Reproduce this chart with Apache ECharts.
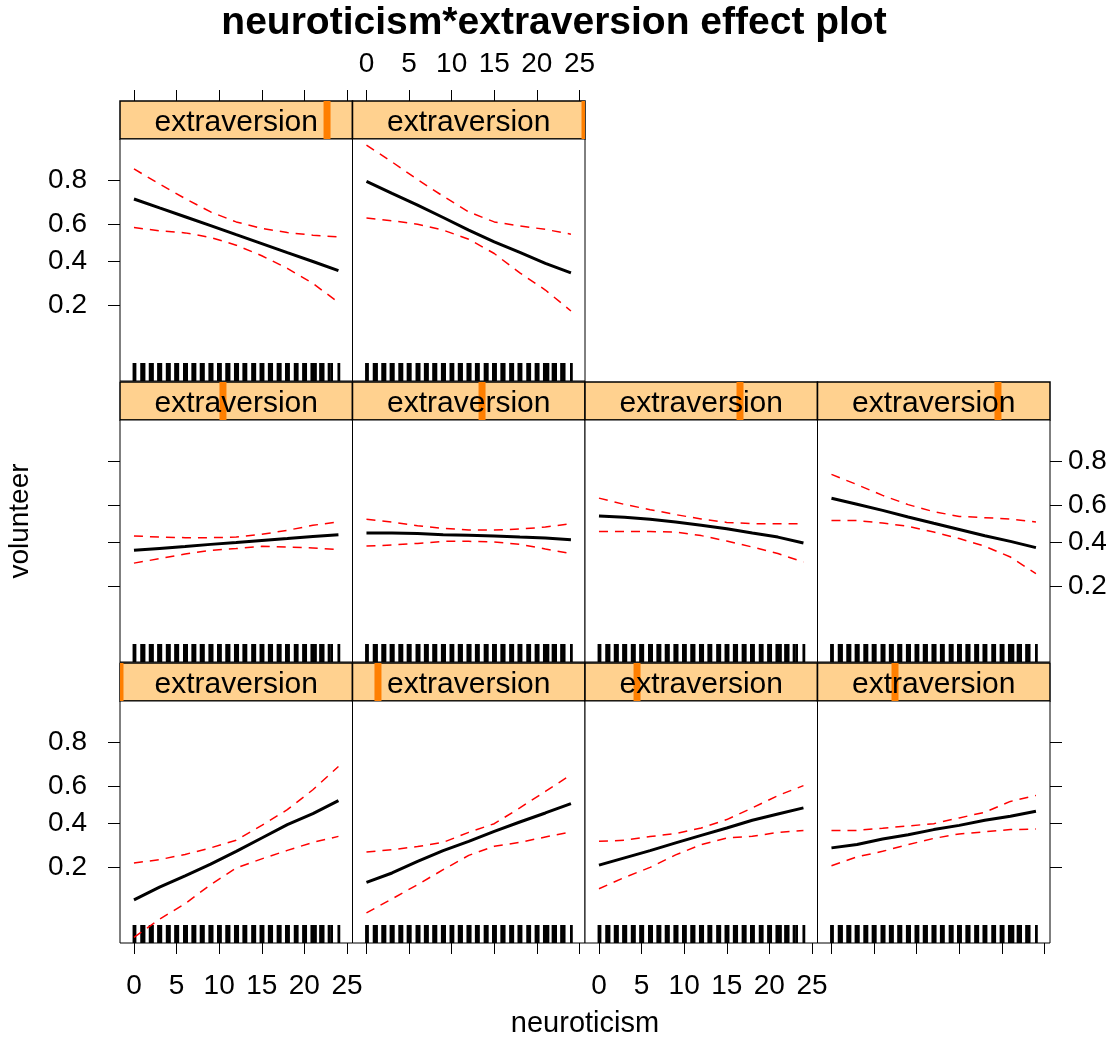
<!DOCTYPE html>
<html>
<head>
    <title>neuroticism*extraversion effect plot</title>
    <script src="https://cdn.jsdelivr.net/npm/echarts@6/dist/echarts.min.js"></script>
    <style>
        body { margin: 0; background: #fff; }
        #chart { width: 1119px; height: 1040px; }
    </style>
</head>
<body>
    <div id="chart"></div>

    <script>
    // neuroticism values where the effect was evaluated
    const neuro = [0, 3, 6, 9, 12, 15, 18, 21, 24];
    // conditioning levels of extraversion (panel order: bottom-left first)
    const extraLevels = [2, 4.3, 6.7, 9, 11.3, 13.7, 16, 18.3, 20.7, 23];

    // fitted probability of volunteering, one row per panel
    const fitVals = [
        [0.108, 0.138, 0.171, 0.211, 0.262, 0.323, 0.391, 0.450, 0.522],
        [0.151, 0.180, 0.221, 0.265, 0.307, 0.356, 0.405, 0.454, 0.506],
        [0.207, 0.235, 0.265, 0.300, 0.336, 0.373, 0.414, 0.448, 0.482],
        [0.277, 0.292, 0.318, 0.339, 0.365, 0.387, 0.414, 0.436, 0.463],
        [0.356, 0.366, 0.376, 0.387, 0.397, 0.408, 0.418, 0.429, 0.439],
        [0.448, 0.448, 0.445, 0.439, 0.436, 0.432, 0.426, 0.421, 0.412],
        [0.542, 0.535, 0.524, 0.509, 0.491, 0.472, 0.448, 0.426, 0.394],
        [0.637, 0.606, 0.573, 0.537, 0.502, 0.468, 0.433, 0.403, 0.370],
        [0.725, 0.684, 0.640, 0.593, 0.544, 0.495, 0.445, 0.397, 0.350],
        [0.796, 0.749, 0.697, 0.636, 0.569, 0.504, 0.446, 0.387, 0.338]
    ];
    const lowerVals = [
        [0.050, 0.073, 0.100, 0.145, 0.197, 0.231, 0.266, 0.302, 0.331],
        [0.083, 0.110, 0.145, 0.191, 0.245, 0.284, 0.302, 0.328, 0.353],
        [0.134, 0.166, 0.199, 0.247, 0.292, 0.323, 0.331, 0.351, 0.361],
        [0.205, 0.239, 0.262, 0.292, 0.321, 0.343, 0.354, 0.365, 0.368],
        [0.294, 0.315, 0.338, 0.356, 0.365, 0.377, 0.373, 0.368, 0.361],
        [0.378, 0.384, 0.392, 0.403, 0.403, 0.400, 0.387, 0.363, 0.340],
        [0.456, 0.456, 0.456, 0.454, 0.434, 0.405, 0.373, 0.340, 0.299],
        [0.517, 0.517, 0.503, 0.485, 0.454, 0.418, 0.377, 0.323, 0.248],
        [0.583, 0.565, 0.554, 0.529, 0.486, 0.428, 0.361, 0.288, 0.210],
        [0.634, 0.619, 0.601, 0.569, 0.519, 0.440, 0.338, 0.259, 0.180]
    ];
    const upperVals = [
        [0.215, 0.228, 0.249, 0.277, 0.312, 0.387, 0.472, 0.582, 0.700],
        [0.259, 0.269, 0.283, 0.302, 0.351, 0.396, 0.482, 0.573, 0.660],
        [0.307, 0.312, 0.330, 0.345, 0.373, 0.418, 0.482, 0.550, 0.604],
        [0.361, 0.361, 0.372, 0.384, 0.396, 0.427, 0.458, 0.518, 0.551],
        [0.432, 0.426, 0.423, 0.423, 0.426, 0.441, 0.463, 0.491, 0.509],
        [0.524, 0.509, 0.489, 0.474, 0.465, 0.465, 0.470, 0.481, 0.500],
        [0.638, 0.605, 0.577, 0.550, 0.526, 0.507, 0.500, 0.500, 0.500],
        [0.749, 0.704, 0.652, 0.604, 0.566, 0.540, 0.533, 0.526, 0.509],
        [0.837, 0.786, 0.727, 0.664, 0.613, 0.578, 0.556, 0.541, 0.532],
        [0.897, 0.857, 0.802, 0.737, 0.664, 0.613, 0.592, 0.573, 0.547]
    ];

    // observed neuroticism scores (jittered) for the rug
    const rugNeuro = [0, 0.12, 0.9, 1.05, 1.18, 1.9, 2.05, 2.17, 2.88, 3.02, 3.15,
        3.9, 4.04, 4.16, 4.88, 5.03, 5.14, 5.92, 6.06, 6.18, 6.9, 7.02, 7.16,
        7.88, 8.01, 8.15, 8.9, 9.05, 9.17, 9.91, 10.03, 10.15, 10.88, 11.02, 11.16,
        11.9, 12.04, 12.17, 12.89, 13.03, 13.14, 13.92, 14.05, 14.18, 14.9, 15.02,
        15.15, 15.88, 16.04, 16.16, 16.91, 17.03, 17.17, 17.89, 18.02, 18.14,
        18.92, 19.05, 19.16, 19.9, 20.03, 20.15, 20.88, 21.04, 21.3, 21.9, 22.06,
        22.2, 22.9, 23.2, 24.05];

    const neuroTicks = [0, 5, 10, 15, 20, 25];
    const probTicks = [0.2, 0.4, 0.6, 0.8];
    // labels split in two sets so that none of them gets dropped as "overlapping"
    const probLabelsA = [0.2, 0.6];
    const probLabelsB = [0.4, 0.8];

    const logit = p => Math.log(p / (1 - p));
    const FONT = 'Liberation Sans, Arial, Helvetica, sans-serif';

    // layout of the lattice
    const colLeft = 120, colW = 232.5;
    const rowTop = 101, rowH = 281, stripH = 38, panelH = 242;
    const X_MIN = -1.64, X_MAX = 25.65;   // neuroticism
    const Y_MIN = -3.07, Y_MAX = 2.30;    // logit scale
    // [row, col] for each panel, lattice fills bottom row first
    const panelPos = [[2, 0], [2, 1], [2, 2], [2, 3], [1, 0], [1, 1], [1, 2], [1, 3], [0, 0], [0, 1]];

    const grids = [], xAxes = [], yAxes = [], series = [], texts = [];
    const noLine = { show: false, onZero: false };
    const labelText = { color: '#000', fontSize: 28, fontFamily: FONT,
        showMinLabel: true, showMaxLabel: true, hideOverlap: false };
    const tickStyle = { color: '#000', width: 1 };

    panelPos.forEach(([r, c], i) => {
        const left = colLeft + c * colW;
        const top = rowTop + r * rowH;

        // strip
        const sg = grids.length;
        grids.push({ left: left, top: top, width: colW, height: stripH, show: true,
            backgroundColor: '#FFD18F', borderColor: '#000', borderWidth: 1.5, outerBoundsMode: 'none' });
        // panel
        const pg = grids.length;
        grids.push({ left: left, top: top + stripH, width: colW, height: panelH, show: true,
            backgroundColor: '#fff', borderColor: '#000', borderWidth: 1, outerBoundsMode: 'none' });

        // top neuroticism axis sits above the strips of the first row
        xAxes.push({
            gridIndex: sg, type: 'value', min: X_MIN, max: X_MAX, position: 'top', show: r === 0,
            axisLine: noLine, splitLine: { show: false },
            axisTick: { show: true, customValues: neuroTicks, length: 11, lineStyle: tickStyle },
            axisLabel: Object.assign({ show: c % 2 === 1, customValues: neuroTicks, margin: 13 }, labelText)
        });
        const extraX = xAxes.length;
        xAxes.push({ gridIndex: sg, type: 'value', min: 2, max: 23, show: false, axisLine: noLine });
        const stripY = yAxes.length;
        yAxes.push({ gridIndex: sg, type: 'value', min: 0, max: 1, show: false, axisLine: noLine });

        const panelX = xAxes.length;
        xAxes.push({
            gridIndex: pg, type: 'value', min: X_MIN, max: X_MAX, position: 'bottom', show: r === 2,
            axisLine: noLine, splitLine: { show: false },
            axisTick: { show: true, customValues: neuroTicks, length: 11, lineStyle: tickStyle },
            axisLabel: Object.assign({ show: c % 2 === 0, customValues: neuroTicks, margin: 19 }, labelText)
        });

        const side = c === 3 ? 'right' : 'left';
        const panelY = yAxes.length;
        yAxes.push({
            gridIndex: pg, type: 'value', min: Y_MIN, max: Y_MAX, position: side, show: c === 0 || c === 3,
            axisLine: noLine, splitLine: { show: false }, axisLabel: { show: false },
            axisTick: { show: true, customValues: probTicks.map(logit), length: 12, lineStyle: tickStyle }
        });
        if ((c === 0 && r !== 1) || (c === 3 && r === 1)) {
            [probLabelsA, probLabelsB].forEach(vals => {
                yAxes.push({
                    gridIndex: pg, type: 'value', min: Y_MIN, max: Y_MAX, position: side,
                    axisLine: noLine, splitLine: { show: false }, axisTick: { show: false },
                    axisLabel: Object.assign({
                        customValues: vals.map(logit), margin: c === 3 ? 18 : 33,
                        formatter: v => (1 / (1 + Math.exp(-v))).toFixed(1)
                    }, labelText)
                });
            });
        }

        // extraversion level marker in the strip
        series.push({
            type: 'custom', xAxisIndex: extraX, yAxisIndex: stripY, silent: true,
            data: [[extraLevels[i], 0.5]],
            renderItem: (params, api) => {
                const x = api.coord([api.value(0), 0.5])[0];
                const cs = params.coordSys;
                const rect = echarts.graphic.clipRectByRect(
                    { x: x - 3.5, y: cs.y, width: 7, height: cs.height },
                    { x: cs.x, y: cs.y, width: cs.width, height: cs.height });
                return rect && { type: 'rect', shape: rect, style: { fill: '#FF7F00' } };
            }
        });

        // rug
        series.push({
            type: 'custom', xAxisIndex: panelX, yAxisIndex: panelY, silent: true,
            data: rugNeuro.map(v => [v, Y_MIN]),
            renderItem: (params, api) => {
                const p = api.coord([api.value(0), api.value(1)]);
                return { type: 'line', shape: { x1: p[0], y1: p[1], x2: p[0], y2: p[1] - 18 },
                    style: { stroke: '#000', lineWidth: 2.8 } };
            }
        });

        const band = vals => ({
            type: 'line', xAxisIndex: panelX, yAxisIndex: panelY, symbol: 'none', silent: true,
            data: neuro.map((n, k) => [n, logit(vals[k])]),
            lineStyle: { color: '#FF0000', width: 1.5, type: [9, 7] }
        });
        series.push(band(lowerVals[i]));
        series.push(band(upperVals[i]));
        series.push({
            type: 'line', xAxisIndex: panelX, yAxisIndex: panelY, symbol: 'none', silent: true,
            data: neuro.map((n, k) => [n, logit(fitVals[i][k])]),
            lineStyle: { color: '#000', width: 3 }
        });

        texts.push({
            type: 'text', z: 100, x: left + colW / 2, y: top + stripH / 2 + 3,
            style: { text: 'extraversion', fill: '#000', font: '30px ' + FONT,
                textAlign: 'center', textVerticalAlign: 'middle', align: 'center', verticalAlign: 'middle' }
        });
    });

    texts.push({
        type: 'text', z: 100, x: 554, y: 23,
        style: { text: 'neuroticism*extraversion effect plot', fill: '#000', font: 'bold 39px ' + FONT,
            textAlign: 'center', textVerticalAlign: 'middle', align: 'center', verticalAlign: 'middle' }
    });
    texts.push({
        type: 'text', z: 100, x: 585, y: 1024,
        style: { text: 'neuroticism', fill: '#000', font: '29px ' + FONT,
            textAlign: 'center', textVerticalAlign: 'middle', align: 'center', verticalAlign: 'middle' }
    });
    texts.push({
        type: 'text', z: 100, x: 20, y: 521, rotation: Math.PI / 2,
        style: { text: 'volunteer', fill: '#000', font: '28px ' + FONT,
            textAlign: 'center', textVerticalAlign: 'middle', align: 'center', verticalAlign: 'middle' }
    });

    const chart = echarts.init(document.getElementById('chart'));
    chart.setOption({
        animation: false,
        backgroundColor: '#fff',
        grid: grids,
        xAxis: xAxes,
        yAxis: yAxes,
        series: series,
        graphic: { elements: texts }
    });
    </script>
</body>
</html>
